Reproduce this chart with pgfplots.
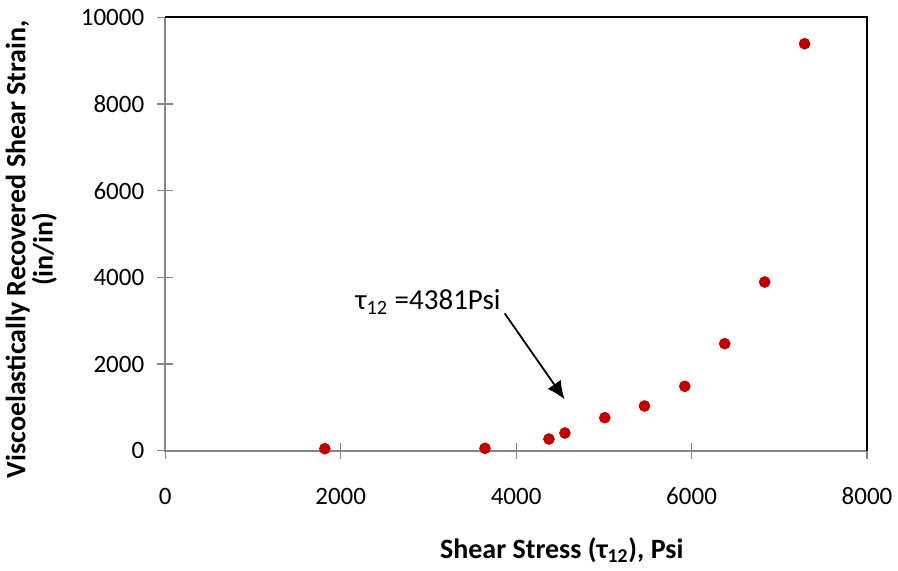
\documentclass[border=0pt]{standalone}
\usepackage{fontspec}
\setmainfont{Carlito}
\usepackage{pgfplots}
\pgfplotsset{compat=1.18}
\usetikzlibrary{arrows.meta}
\definecolor{ptred}{RGB}{192,0,0}
\definecolor{axgray}{RGB}{134,134,134}
\begin{document}
\begin{tikzpicture}
\useasboundingbox (-82.65pt,-59.65pt) rectangle (366.35pt,225.35pt);
\begin{axis}[
  at={(0,0)}, anchor=south west,
  scale only axis, width=350.85pt, height=216.7pt,
  xmin=0, xmax=8000, ymin=0, ymax=10000,
  xtick={0,2000,...,8000}, ytick={0,2000,...,10000},
  axis line style={draw=none},
  tick align=center, xtick pos=bottom, ytick pos=left,
  major tick length=8pt,
  tick style={axgray, line width=0.6pt},
  scaled ticks=false,
  /pgf/number format/assume math mode=true,
  /pgf/number format/1000 sep={},
  ticklabel style={font=\fontsize{12.5}{14}\selectfont},
  xticklabel style={yshift=-11pt},
  yticklabel style={xshift=-3pt},
  xlabel={Shear Stress (τ\textsubscript{12}), Psi},
  ylabel={Viscoelastically Recovered Shear Strain,\\(in/in)},
  xlabel style={font=\bfseries\fontsize{14}{16}\selectfont, at={(axis description cs:0.565,-0.229)}, anchor=center},
  ylabel style={font=\bfseries\fontsize{14}{12}\selectfont, align=center, at={(axis description cs:-0.191,0.465)}, anchor=center},
  clip=false,
]
\draw[axgray, line width=1pt] (rel axis cs:0,1) -- (rel axis cs:0,0) -- (rel axis cs:1,0);
\draw[black, line width=1pt] (rel axis cs:0,1) -- (rel axis cs:1,1) -- (rel axis cs:1,0);
\addplot[only marks, mark=*, mark size=2.7pt, mark options={fill=ptred, draw=ptred}] coordinates {
  (1819,46) (3645,55) (4374,270) (4556,408) (5011,761) (5463,1031)
  (5923,1486) (6378,2469) (6834,3892) (7289,9390)
};
\node[font=\fontsize{14.5}{16}\selectfont] at (axis cs:2994,3430) {τ\textsubscript{12} =4381Psi};
\draw[-{Latex[length=9pt,width=8pt]}, line width=0.9pt, black] (axis cs:3869,3170) -- (axis cs:4552,1186);
\end{axis}
\end{tikzpicture}
\end{document}
